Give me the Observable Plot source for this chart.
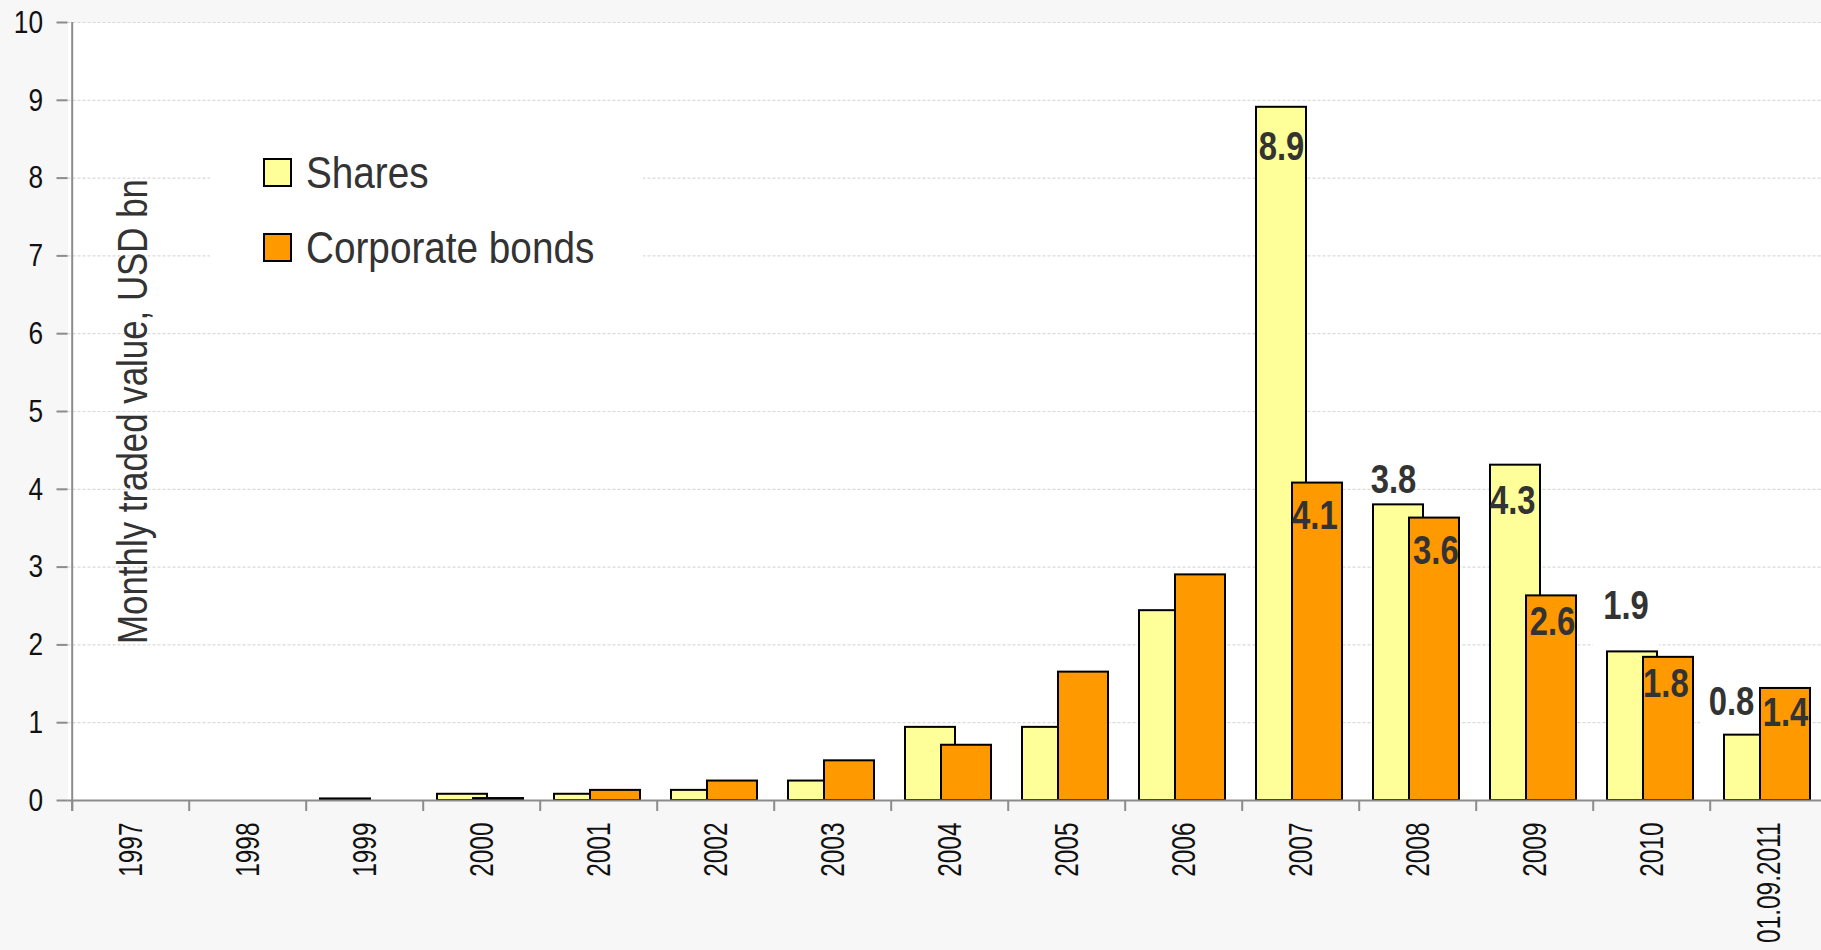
<!DOCTYPE html>
<html>
<head>
<meta charset="utf-8">
<script src="https://cdn.jsdelivr.net/npm/d3@7"></script>
<script src="https://cdn.jsdelivr.net/npm/@observablehq/plot@0.6"></script>
<style>
  html, body { margin: 0; padding: 0; background: #f7f7f7; }
  #wrap { position: relative; width: 1821px; height: 950px; overflow: hidden; }
  #legend { position: absolute; left: 210px; top: 125px; width: 433px; height: 175px; background: #fff; }
  .row { position: absolute; left: 52.7px; height: 45px; display: flex; align-items: center;
         font-family: 'Liberation Sans', Arial, sans-serif; font-size: 45px; color: #333; white-space: nowrap; }
  .row span { display: inline-block; transform: scaleX(0.86); transform-origin: 0 50%; }
  .sw { width: 29px; height: 29px; box-sizing: border-box; border: 2px solid #000; margin-right: 14.3px; flex: none; }
</style>
</head>
<body>
<div id="wrap"><div id="legend"></div></div>
<script>
// ---- data ----
const categories = ["1997","1998","1999","2000","2001","2002","2003","2004","2005","2006","2007","2008","2009","2010","01.09.2011"];
const shares = [0, 0, 0.02, 0.08, 0.08, 0.13, 0.25, 0.94, 0.94, 2.44, 8.91, 3.80, 4.31, 1.91, 0.84];
const bonds  = [0, 0, 0, 0.025, 0.13, 0.25, 0.51, 0.71, 1.65, 2.90, 4.08, 3.63, 2.63, 1.84, 1.44];
const seriesNames = ["Shares", "Corporate bonds"];
const yTicks = [0, 1, 2, 3, 4, 5, 6, 7, 8, 9, 10];
const yTitle = "Monthly traded value, USD bn";
const labelledCategories = ["2007", "2008", "2009", "2010", "01.09.2011"];
const boxedShareLabels = ["2010", "01.09.2011"];

// ---- styles / layout ----
const W = 1821, H = 950;
const mLeft = 67.5, mTop = 22, yBottom = 800;
const band = 117.6;
const colors = ["#ffff99", "#ff9900"];
const insets = [[14, 53], [50, 17]];          // [insetLeft, insetRight] per series
const centerOff = insets.map(([l, r]) => l + (band - l - r) / 2 - band / 2);
const shareNudge = [[0, 39.5], [-5, -24.7], [-2.8, 35.8], [-6.5, -45.3], [-18, -33.3]];
const bondNudge  = [[-2.6, 33], [1.4, 32.7], [1, 26], [-2.6, 27], [0, 25]];
const boxSpec = { "2010": {l: 0, r: 51, h: 69, dy: -36.5}, "01.09.2011": {l: -10, r: 67, h: 51, dy: -28} };
const gray = "#8c8c8c";
const pxPerUnit = (yBottom - mTop) / 10;
const tickLen = 11 / pxPerUnit;
const font = "'Liberation Sans', Arial, sans-serif";
const narrow = 0.82;      // horizontal compression to mimic a narrow face
const narrowX = 0.74;     // category labels are a little more condensed

const rows = [shares, bonds].map((vals, s) =>
  categories.map((cat, i) => ({cat, value: vals[i], series: seriesNames[s]})).filter(d => d.value > 0));

const labelMarks = [];
[shares, bonds].forEach((vals, s) => {
  const nudge = s === 0 ? shareNudge : bondNudge;
  labelledCategories.forEach((cat, k) => {
    const d = {cat, value: vals[categories.indexOf(cat)]};
    labelMarks.push(Plot.text([d], {
      x: "cat", y: "value", text: v => v.value.toFixed(1),
      dx: centerOff[s] + nudge[k][0], dy: nudge[k][1],
      fontSize: 40, fontWeight: "bold", fill: "#333"
    }));
  });
});

const boxMarks = boxedShareLabels.map(cat => {
  const b = boxSpec[cat];
  const d = {cat, value: shares[categories.indexOf(cat)]};
  return Plot.barY([d], {x: "cat", y1: "value", y2: "value", fill: "white",
    insetLeft: b.l, insetRight: b.r, insetTop: -b.h / 2, insetBottom: -b.h / 2, dy: b.dy});
});

const chart = Plot.plot({
  width: W, height: H,
  marginLeft: mLeft, marginRight: 0, marginTop: mTop, marginBottom: H - yBottom,
  x: {domain: categories, range: [mLeft, mLeft + band * categories.length], padding: 0, axis: null},
  y: {domain: [0, 10], label: null},
  style: {background: "#f7f7f7", fontFamily: font, overflow: "visible"},
  marks: [
    Plot.frame({fill: "white", stroke: "none"}),
    Plot.ruleY(yTicks.slice(1), {stroke: "#d9d9d9", strokeWidth: 1.2, strokeDasharray: "3,2"}),
    ...boxMarks,
    Plot.barY(rows[0], {x: "cat", y: "value", fill: colors[0], stroke: "#000", strokeWidth: 2,
      insetLeft: insets[0][0], insetRight: insets[0][1]}),
    Plot.barY(rows[1], {x: "cat", y: "value", fill: colors[1], stroke: "#000", strokeWidth: 2,
      insetLeft: insets[1][0], insetRight: insets[1][1]}),
    Plot.ruleY([0], {stroke: gray, strokeWidth: 2}),
    Plot.ruleX([categories[0]], {x: d => d, dx: -band / 2, y1: -tickLen, y2: 10, stroke: gray, strokeWidth: 2}),
    Plot.ruleX(categories, {x: d => d, dx: -band / 2, y1: 0, y2: -tickLen, stroke: gray, strokeWidth: 2}),
    Plot.axisY({ticks: yTicks, tickSize: 11, tickPadding: 14, fontSize: 32, stroke: gray, strokeWidth: 2,
      fill: "#111", tickFormat: d => String(d), label: null}),
    Plot.text(categories, {x: d => d, y: 0, dy: 22, rotate: -90, textAnchor: "end", fontSize: 33, fill: "#111"}),
    Plot.text([yTitle], {frameAnchor: "top-left", dx: 116 - mLeft, dy: 411 - mTop, rotate: -90,
      textAnchor: "middle", fontSize: 42.5, fill: "#333"}),
    ...labelMarks
  ]
});
chart.style.position = "absolute";
chart.style.left = "0";
chart.style.top = "0";
const wrap = document.getElementById("wrap");
wrap.insertBefore(chart, wrap.firstChild);

// narrow the SVG texts along their baselines
chart.querySelectorAll("text").forEach(t => {
  const len = t.getComputedTextLength();
  if (len > 0) {
    const k = categories.includes(t.textContent.trim()) ? narrowX : narrow;
    t.setAttribute("textLength", (len * k).toFixed(2));
    t.setAttribute("lengthAdjust", "spacingAndGlyphs");
  }
});

// legend
const legend = document.getElementById("legend");
seriesNames.forEach((name, i) => {
  const row = document.createElement("div");
  row.className = "row";
  row.style.top = (150 + 75 * i - 125) + "px";
  const sw = document.createElement("div");
  sw.className = "sw";
  sw.style.background = colors[i];
  const t = document.createElement("span");
  t.textContent = name;
  row.appendChild(sw); row.appendChild(t);
  legend.appendChild(row);
});
</script>
</body>
</html>
